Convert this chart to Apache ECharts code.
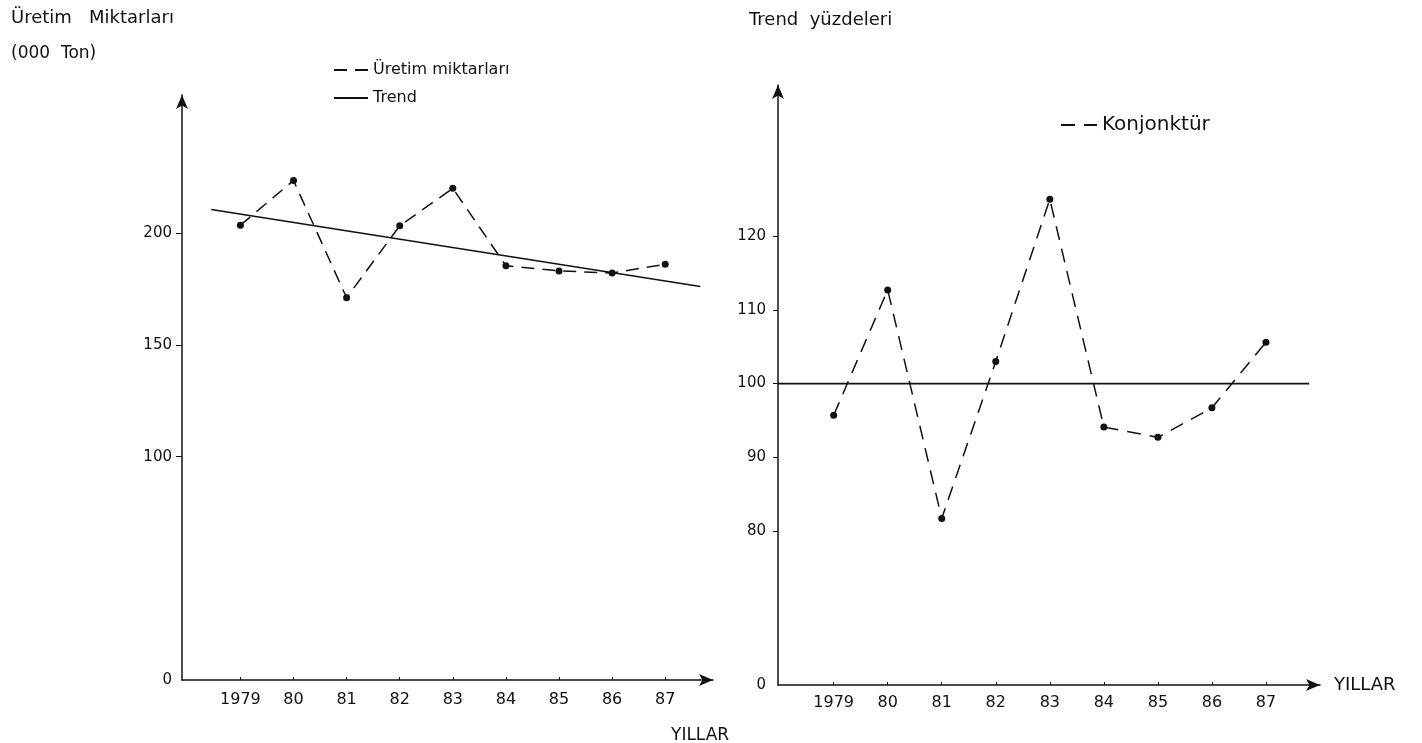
<!DOCTYPE html>
<html>
<head>
<meta charset="utf-8">
<script src="https://cdn.jsdelivr.net/npm/echarts@6/dist/echarts.min.js"></script>
<style>
html,body{margin:0;padding:0;background:#fff;}
#chart{width:1422px;height:743px;}
</style>
</head>
<body>
<div id="chart"></div>
<script>
// ---- data ----
const years = [1979, 1980, 1981, 1982, 1983, 1984, 1985, 1986, 1987];
const yearLabels = ['1979', '80', '81', '82', '83', '84', '85', '86', '87'];
const uretim = [203.7, 223.7, 171.2, 203.4, 220.2, 185.5, 183.2, 182.3, 186.2];
const trendYears = [1978.45, 1987.66];
const trendValues = [210.7, 176.2];
const konjonktur = [95.7, 112.7, 81.7, 103.0, 125.0, 94.1, 92.7, 96.7, 105.6];
const baseYears = [1977.97, 1987.8];
const baseValues = [100, 100];
const leftYLabels = [0, 100, 150, 200];
const rightYLabels = [80, 90, 100, 110, 120];

// ---- build ----
const FONT = 'DejaVu Sans';
const INK = '#111';
const rightYMin = 59.1;
const pair = (xs, ys) => xs.map((x, i) => [x, ys[i]]);

const axisLineStyle = { show: true, lineStyle: { color: INK, width: 1.5 }, symbol: ['none', 'arrow'], symbolSize: [9, 14] };

const option = {
  backgroundColor: '#fff',
  animation: false,
  textStyle: { fontFamily: FONT, color: INK },
  title: [
    { text: 'Üretim   Miktarları', left: 6, top: 4, textStyle: { fontFamily: FONT, fontSize: 18, fontWeight: 'normal', color: INK } },
    { text: '(000  Ton)', left: 6, top: 40, textStyle: { fontFamily: FONT, fontSize: 17, fontWeight: 'normal', color: INK } },
    { text: 'Trend  yüzdeleri', left: 744, top: 6, textStyle: { fontFamily: FONT, fontSize: 18, fontWeight: 'normal', color: INK } },
    { text: 'YILLAR', left: 666, top: 722, textStyle: { fontFamily: FONT, fontSize: 17, fontWeight: 'normal', color: INK } }
  ],
  legend: [
    { data: ['Üretim miktarları', 'Trend'], orient: 'vertical', left: 328, top: 57, itemGap: 12, itemWidth: 34, itemHeight: 10,
      itemStyle: { opacity: 0 }, textStyle: { fontFamily: FONT, fontSize: 16, color: INK } },
    { data: ['Konjonktür'], left: 1055, top: 110, itemWidth: 36, itemHeight: 10,
      itemStyle: { opacity: 0 }, textStyle: { fontFamily: FONT, fontSize: 20, color: INK } }
  ],
  grid: [
    { left: 182, top: 95, width: 531, height: 585 },
    { left: 778, top: 85, width: 542, height: 600 }
  ],
  xAxis: [
    { gridIndex: 0, type: 'value', min: 1977.9, max: 1987.9, axisLine: axisLineStyle,
      axisTick: { show: true, inside: true, length: 3, customValues: years, lineStyle: { color: INK } },
      axisLabel: { customValues: years, margin: 12, fontSize: 16, color: INK, fontFamily: FONT,
        formatter: v => yearLabels[years.indexOf(Math.round(v))] },
      splitLine: { show: false } },
    { gridIndex: 1, type: 'value', min: 1977.97, max: 1988, axisLine: axisLineStyle,
      name: 'YILLAR', nameLocation: 'end', nameGap: 14, nameTextStyle: { fontSize: 18, color: INK, fontFamily: FONT },
      axisTick: { show: true, inside: true, length: 3, customValues: years, lineStyle: { color: INK } },
      axisLabel: { customValues: years, margin: 10, fontSize: 16, color: INK, fontFamily: FONT,
        formatter: v => yearLabels[years.indexOf(Math.round(v))] },
      splitLine: { show: false } }
  ],
  yAxis: [
    { gridIndex: 0, type: 'value', min: 0, max: 262, axisLine: axisLineStyle,
      axisTick: { show: true, length: 6, customValues: leftYLabels.filter(v => v > 0), lineStyle: { color: INK } },
      axisLabel: { customValues: leftYLabels, margin: 10, fontSize: 15, color: INK, fontFamily: FONT },
      splitLine: { show: false } },
    { gridIndex: 1, type: 'value', min: rightYMin, max: 140.5, axisLine: axisLineStyle,
      axisTick: { show: true, length: 5, customValues: rightYLabels, lineStyle: { color: INK } },
      axisLabel: { customValues: [rightYMin].concat(rightYLabels), margin: 12, fontSize: 15, color: INK, fontFamily: FONT,
        formatter: v => (Math.abs(v - rightYMin) < 0.01 ? '0' : String(v)) },
      splitLine: { show: false } }
  ],
  series: [
    { name: 'Üretim miktarları', type: 'line', xAxisIndex: 0, yAxisIndex: 0,
      data: pair(years, uretim), symbol: 'circle', symbolSize: 7, showSymbol: true,
      itemStyle: { color: INK }, lineStyle: { color: INK, width: 1.5, type: [13, 8] } },
    { name: 'Trend', type: 'line', xAxisIndex: 0, yAxisIndex: 0,
      data: pair(trendYears, trendValues), showSymbol: false, symbol: 'none',
      itemStyle: { color: INK }, lineStyle: { color: INK, width: 1.5 } },
    { name: 'Konjonktür', type: 'line', xAxisIndex: 1, yAxisIndex: 1,
      data: pair(years, konjonktur), symbol: 'circle', symbolSize: 7,
      itemStyle: { color: INK }, lineStyle: { color: INK, width: 1.5, type: [14, 9] } },
    { name: 'Trend yüzdesi', type: 'line', xAxisIndex: 1, yAxisIndex: 1,
      data: pair(baseYears, baseValues), showSymbol: false, symbol: 'none',
      itemStyle: { color: INK }, lineStyle: { color: INK, width: 1.8 } }
  ]
};

const chart = echarts.init(document.getElementById('chart'), null, { renderer: 'canvas' });
chart.setOption(option);
</script>
</body>
</html>
